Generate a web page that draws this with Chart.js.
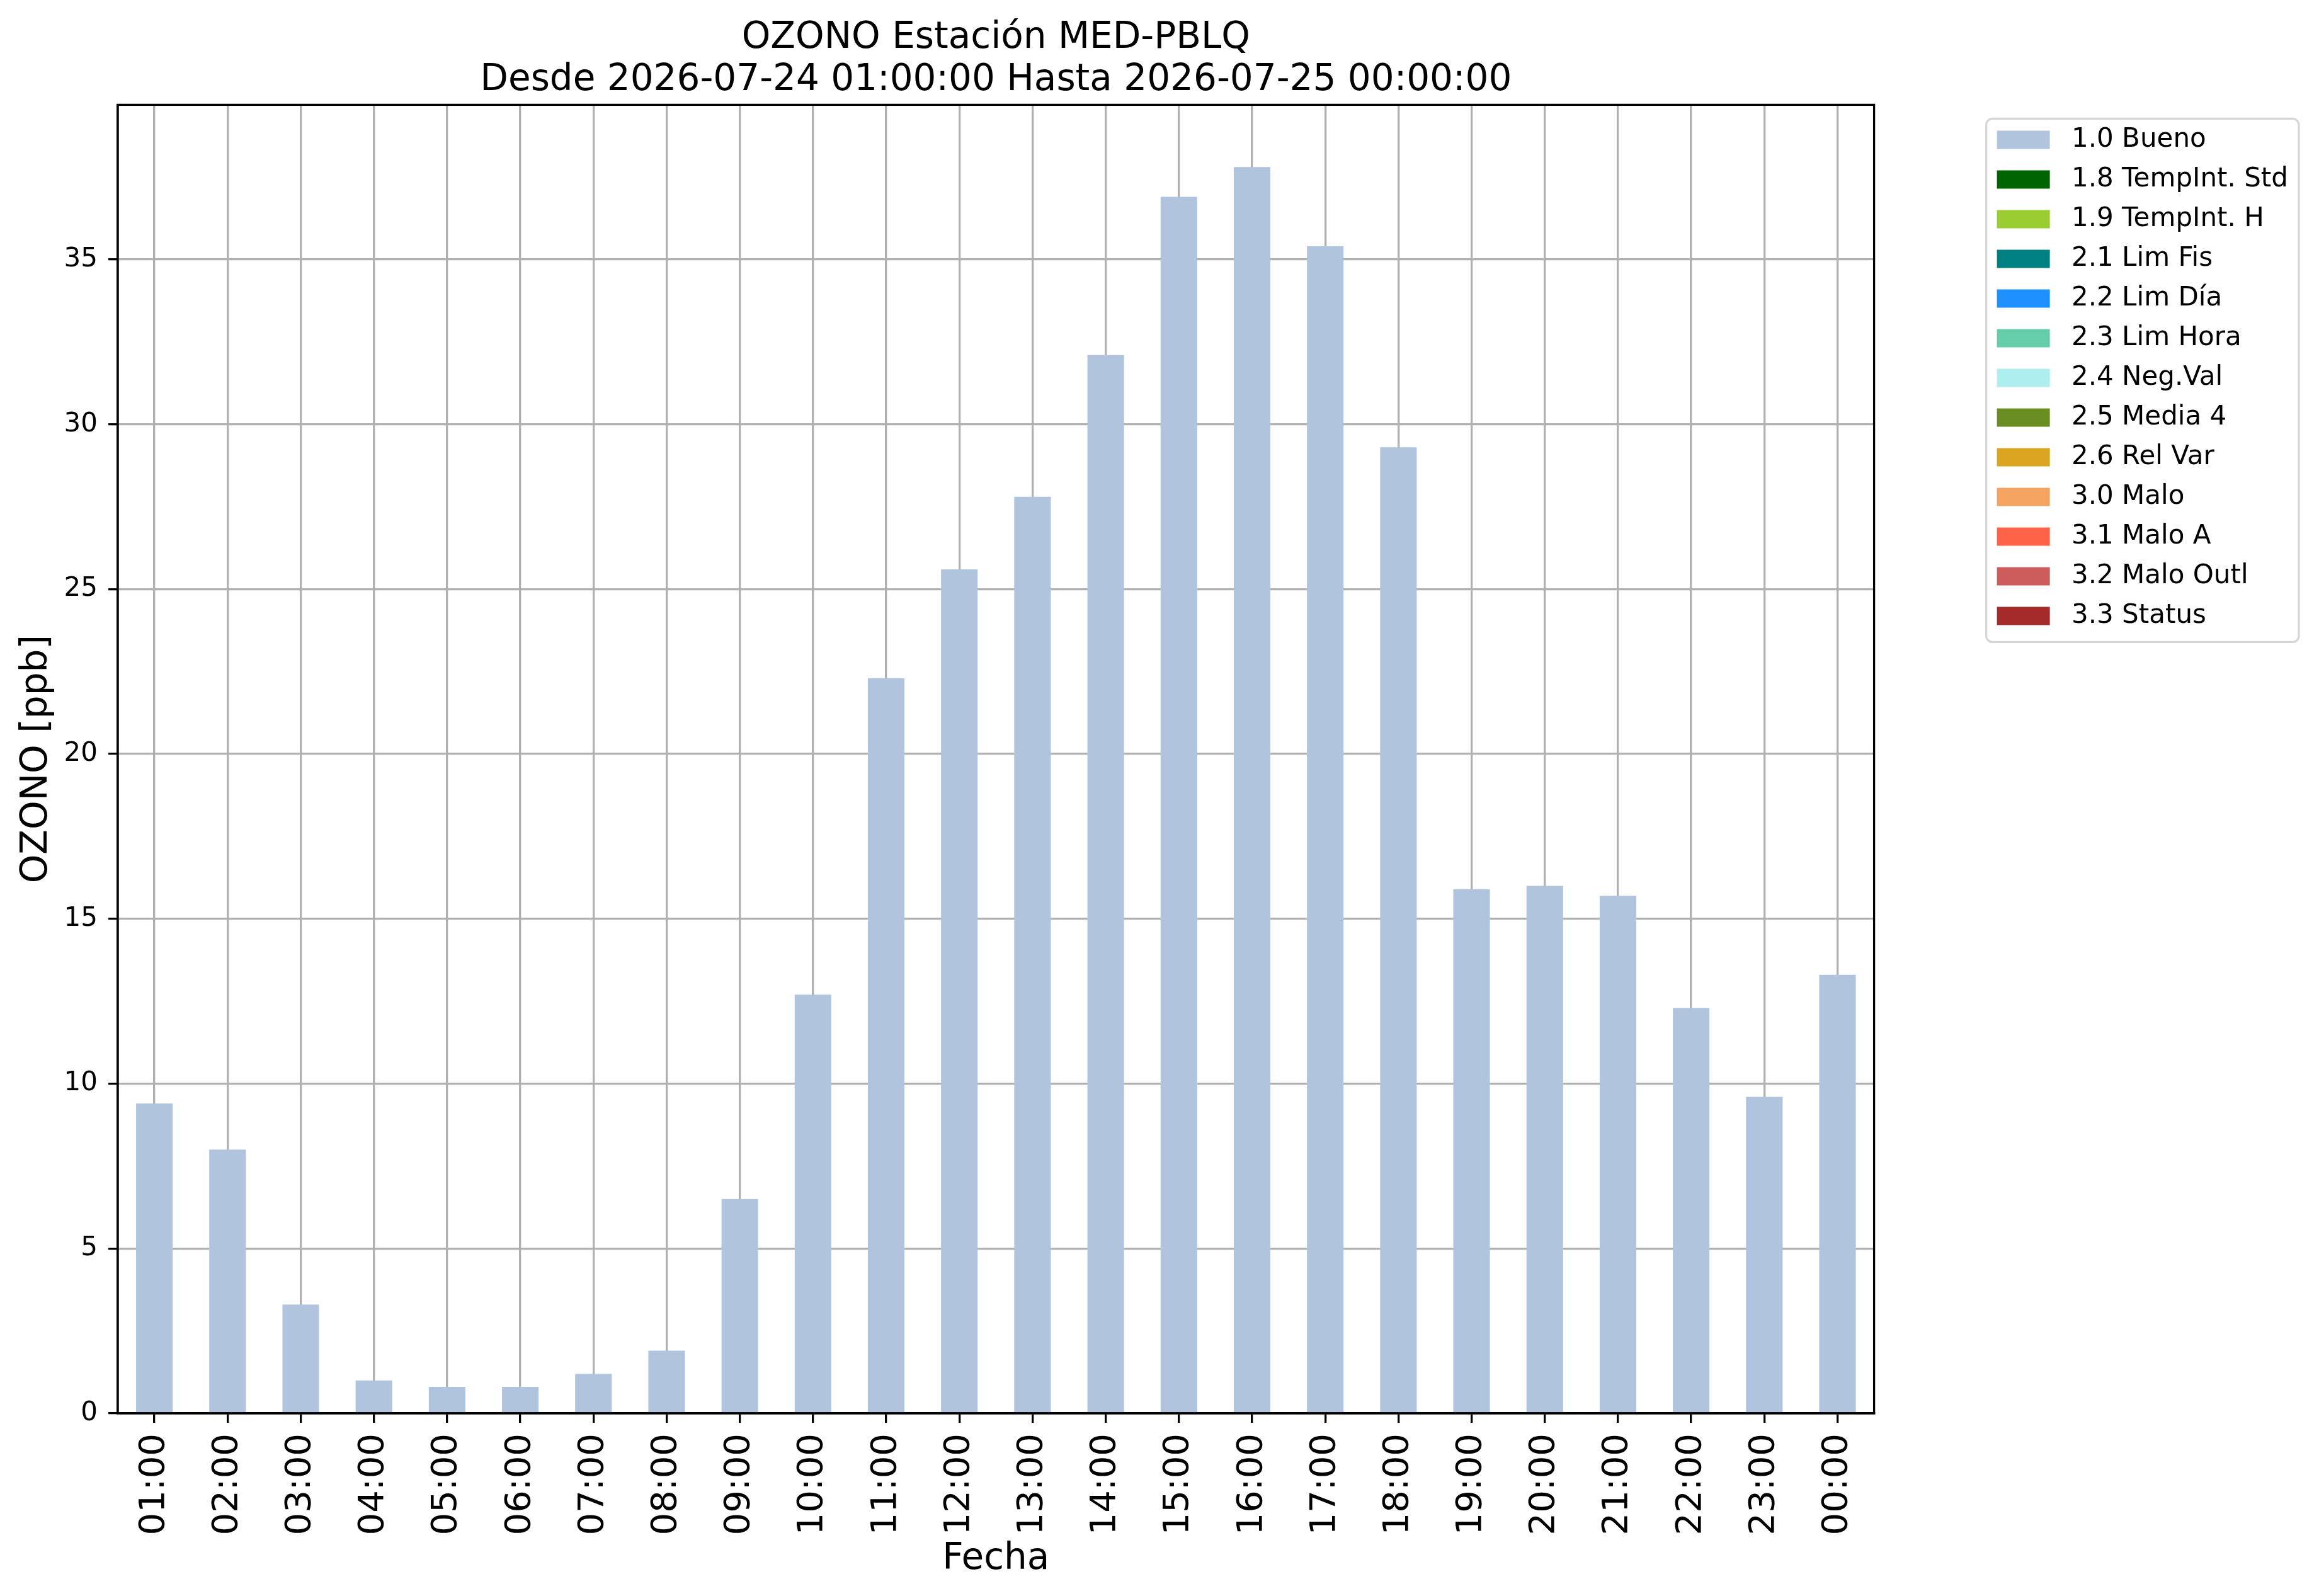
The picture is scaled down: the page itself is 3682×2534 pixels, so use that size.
<!DOCTYPE html>
<html>
<head>
<meta charset="utf-8">
<title>OZONO Estación MED-PBLQ</title>
<script src="https://cdn.jsdelivr.net/npm/chart.js@4.4.1/dist/chart.umd.min.js"></script>
<style>
  html, body { margin: 0; padding: 0; background: #ffffff; }
  #chart-box { width: 3682px; height: 2534px; }
</style>
</head>
<body>
<div id="chart-box">
  <canvas id="ozoneChart" width="3682" height="2534" style="width:3682px;height:2534px"></canvas>
</div>
<script>
// Data
const hours = ['01:00', '02:00', '03:00', '04:00', '05:00', '06:00', '07:00', '08:00',
               '09:00', '10:00', '11:00', '12:00', '13:00', '14:00', '15:00', '16:00',
               '17:00', '18:00', '19:00', '20:00', '21:00', '22:00', '23:00', '00:00'];
const ozoneValues = [9.4, 8.0, 3.3, 1.0, 0.8, 0.8, 1.2, 1.9, 6.5, 12.7, 22.3, 25.6,
                     27.8, 32.1, 36.9, 37.8, 35.4, 29.3, 15.9, 16.0, 15.7, 12.3, 9.6, 13.3];
const flagLabels = ['1.0 Bueno', '1.8 TempInt. Std', '1.9 TempInt. H', '2.1 Lim Fis',
                    '2.2 Lim Día', '2.3 Lim Hora', '2.4 Neg.Val', '2.5 Media 4',
                    '2.6 Rel Var', '3.0 Malo', '3.1 Malo A', '3.2 Malo Outl', '3.3 Status'];
const flagColors = ['#b0c4de', '#006400', '#9acd32', '#008080', '#1e90ff', '#66cdaa',
                    '#afeeee', '#6b8e23', '#daa520', '#f4a460', '#ff6347', '#cd5c5c', '#a52a2a'];
const yTickStep = 5;
const yTop = 39.69;   // 37.8 * 1.05

Chart.defaults.font.family = "'DejaVu Sans', sans-serif";
Chart.defaults.color = '#000000';

// only the first flag has values in this period; the others only show in the legend
const datasets = flagLabels.map((label, i) => ({
    label: label,
    data: i === 0 ? ozoneValues : [],
    backgroundColor: flagColors[i],
    borderWidth: 0,
    barPercentage: 0.5,
    categoryPercentage: 1.0
}));

const lw = 3.3; // 0.8pt at 300 dpi

/**
 * Draws the closed frame round the plot and the rounded box round the legend.
 */
const framePlugin = {
    id: 'frame',
    afterDraw(chart) {
        const ctx = chart.ctx;
        const a = chart.chartArea;
        ctx.save();
        ctx.strokeStyle = '#000000';
        ctx.lineWidth = lw;
        ctx.strokeRect(a.left, a.top, a.right - a.left, a.bottom - a.top);

        const boxes = chart.legend.legendHitBoxes;
        if (boxes && boxes.length) {
            const first = boxes[0];
            const last = boxes[boxes.length - 1];
            const left = first.left - 17;
            const top = first.top - 12.5;
            const right = Math.max(...boxes.map(b => b.left + b.width)) + 17;
            const bottom = last.top + last.height + 20.5;
            ctx.strokeStyle = '#d6d6d6';
            ctx.lineWidth = lw;
            ctx.beginPath();
            ctx.roundRect(left, top, right - left, bottom - top, 10);
            ctx.stroke();
        }
        ctx.restore();
    }
};

const ctx = document.getElementById('ozoneChart').getContext('2d');
new Chart(ctx, {
    type: 'bar',
    data: {
        labels: hours,
        datasets: datasets
    },
    plugins: [framePlugin],
    options: {
        responsive: false,
        animation: false,
        devicePixelRatio: 1,
        layout: {
            padding: { left: 0, right: 39, top: 0, bottom: 0 }
        },
        plugins: {
            title: {
                display: true,
                fullSize: false,
                text: ['OZONO Estación MED-PBLQ', 'Desde 2026-07-24 01:00:00 Hasta 2026-07-25 00:00:00'],
                color: '#000000',
                font: { size: 58, weight: 'normal', lineHeight: 1.15 },
                padding: { top: 28, bottom: 5 }
            },
            legend: {
                position: 'right',
                align: 'start',
                fullSize: false,
                title: {
                    display: true,
                    text: '',
                    padding: 0,
                    font: { size: 13.5, lineHeight: 1 }
                },
                labels: {
                    boxWidth: 84,
                    boxHeight: 29,
                    padding: 21,
                    color: '#000000',
                    font: { size: 42 },
                    generateLabels: (chart) =>
                        Chart.defaults.plugins.legend.labels.generateLabels(chart)
                            .map(item => ({ ...item, text: ' ' + item.text, lineWidth: 0 }))
                }
            },
            tooltip: { enabled: false }
        },
        scales: {
            x: {
                stacked: true,
                z: 1,
                grid: {
                    offset: false,
                    color: '#b0b0b0',
                    lineWidth: lw,
                    tickColor: '#000000',
                    tickWidth: lw,
                    tickLength: 15
                },
                border: { display: true, color: '#000000', width: lw },
                ticks: {
                    autoSkip: false,
                    maxRotation: 90,
                    minRotation: 90,
                    padding: 17,
                    color: '#000000',
                    font: { size: 56 }
                },
                title: {
                    display: true,
                    text: 'Fecha',
                    color: '#000000',
                    font: { size: 58, lineHeight: 1.15 },
                    padding: { top: 0, bottom: 25 }
                },
                afterFit: (scale) => { scale.height = 290; }
            },
            y: {
                stacked: true,
                z: 1,
                min: 0,
                max: yTop,
                grid: {
                    color: '#b0b0b0',
                    lineWidth: lw,
                    tickColor: '#000000',
                    tickWidth: lw,
                    tickLength: 15
                },
                border: { display: true, color: '#000000', width: lw },
                ticks: {
                    stepSize: yTickStep,
                    includeBounds: false,
                    padding: 17,
                    color: '#000000',
                    font: { size: 42 }
                },
                title: {
                    display: true,
                    text: 'OZONO [ppb]',
                    color: '#000000',
                    font: { size: 58, lineHeight: 1.15 },
                    padding: { top: 26, bottom: 0 }
                },
                afterFit: (scale) => { scale.width = 187; }
            },
            gap: {
                type: 'linear',
                position: 'right',
                display: true,
                grid: { display: false, drawTicks: false },
                border: { display: false },
                ticks: { display: false },
                afterFit: (scale) => { scale.width = 174; }
            }
        }
    }
});
</script>
</body>
</html>
